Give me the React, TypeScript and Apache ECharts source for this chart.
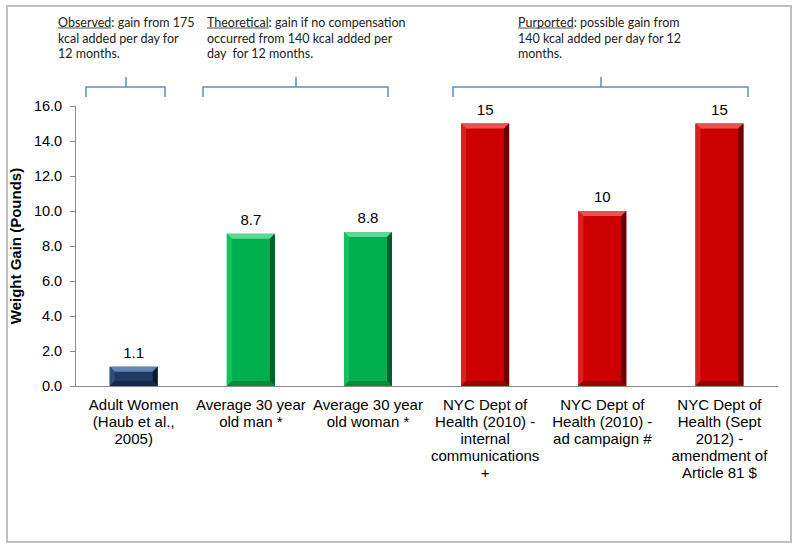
import React, { useEffect, useRef } from "react";
import * as echarts from "echarts";

const categories = [
  "Adult Women\n(Haub et al.,\n2005)",
  "Average 30 year\nold man *",
  "Average 30 year\nold woman *",
  "NYC Dept of\nHealth (2010) -\ninternal\ncommunications\n+",
  "NYC Dept of\nHealth (2010) -\nad campaign #",
  "NYC Dept of\nHealth (Sept\n2012) -\namendment of\nArticle 81 $",
];
const values = [1.1, 8.7, 8.8, 15, 10, 15];
const valueLabels = ["1.1", "8.7", "8.8", "15", "10", "15"];
const barGroups = ["observed", "theoretical", "theoretical", "purported", "purported", "purported"];
const yAxisTitle = "Weight Gain (Pounds)";

const annotationKeys = ["Observed", "Theoretical", "Purported"];
const annotationRests = [
  ": gain from 175\nkcal added per day for\n12 months.",
  ": gain if no compensation\noccurred from 140 kcal added per\nday  for 12 months.",
  ": possible gain from\n140 kcal added per day for 12\nmonths.",
];

// base, top, left, right, bottom
const palette: Record<string, string[]> = {
  observed: ["#1f3b62", "#6384b0", "#2d4d7a", "#0d1b30", "#142a48"],
  theoretical: ["#00b050", "#5cd895", "#14c262", "#005c28", "#008a3c"],
  purported: ["#cc0000", "#ec5050", "#da2020", "#6a0000", "#990000"],
};

const FONT = "Arial";

export default function App() {
  const ref = useRef<HTMLDivElement>(null);
  useEffect(() => {
    if (!ref.current) return;
    const chart = echarts.init(ref.current, null, { renderer: "svg" });

    const annFontSize = 12.5;
    const cvs = document.createElement("canvas");
    const ctx = cvs.getContext("2d")!;
    ctx.font = `${annFontSize}px Lato`;

    const annX = [58, 207, 518];
    const annY = 15;
    const lh = 15.5;

    const graphics: any[] = [
      {
        type: "rect",
        shape: { x: 7, y: 6, width: 784, height: 536 },
        style: { fill: "none", stroke: "#BFBFBF", lineWidth: 2 },
        z: -1,
      },
    ];
    annotationKeys.forEach((k, i) => {
      const w = ctx.measureText(k).width;
      graphics.push({
        type: "text",
        x: annX[i],
        y: annY,
        style: {
          text: k + annotationRests[i],
          fontFamily: "Lato",
          fontSize: annFontSize,
          lineHeight: lh,
          fill: "#222",
          verticalAlign: "top",
        },
      });
      graphics.push({
        type: "line",
        shape: { x1: annX[i], y1: annY + 13, x2: annX[i] + w, y2: annY + 13 },
        style: { stroke: "#222", lineWidth: 0.8 },
      });
    });
    const brackets = [
      [86, 165, 126],
      [203, 388, 296],
      [453, 748, 601],
    ];
    brackets.forEach(([a, b, c]) => {
      graphics.push({
        type: "polyline",
        shape: { points: [[a, 97], [a, 87], [b, 87], [b, 97]] },
        style: { stroke: "#5B8DC9", lineWidth: 1.5, fill: "none" },
      });
      graphics.push({
        type: "line",
        shape: { x1: c, y1: 77, x2: c, y2: 87 },
        style: { stroke: "#5B8DC9", lineWidth: 1.5 },
      });
    });

    const BW = 48;
    const renderBevel = (params: any, api: any) => {
      const i = params.dataIndex;
      const top = api.coord([i, api.value(1)]);
      const base = api.coord([i, 0]);
      const x0 = top[0] - BW / 2;
      const x1 = top[0] + BW / 2;
      const y0 = top[1];
      const y1 = base[1];
      const h = y1 - y0;
      const b = Math.min(5, h / 3);
      const c = palette[barGroups[i]];
      return {
        type: "group",
        children: [
          { type: "rect", shape: { x: x0, y: y0, width: BW, height: h }, style: { fill: c[0] } },
          {
            type: "polygon",
            shape: { points: [[x0, y0], [x1, y0], [x1 - b, y0 + b], [x0 + b, y0 + b]] },
            style: { fill: c[1] },
          },
          {
            type: "polygon",
            shape: { points: [[x0, y0], [x0 + b, y0 + b], [x0 + b, y1 - b], [x0, y1]] },
            style: { fill: c[2] },
          },
          {
            type: "polygon",
            shape: { points: [[x1, y0], [x1, y1], [x1 - b, y1 - b], [x1 - b, y0 + b]] },
            style: { fill: c[3] },
          },
          {
            type: "polygon",
            shape: { points: [[x0, y1], [x0 + b, y1 - b], [x1 - b, y1 - b], [x1, y1]] },
            style: { fill: c[4] },
          },
          {
            type: "text",
            x: top[0],
            y: y0 - 7,
            style: {
              text: valueLabels[i],
              fontFamily: FONT,
              fontSize: 15,
              fill: "#000",
              align: "center",
              verticalAlign: "bottom",
            },
          },
        ],
      };
    };

    chart.setOption({
      animation: false,
      grid: { left: 69, right: 22, top: 106, bottom: 163 },
      xAxis: {
        type: "category",
        data: categories,
        axisLine: { lineStyle: { color: "#8c8c8c" } },
        axisTick: { show: false },
        axisLabel: {
          interval: 0,
          color: "#000",
          fontFamily: FONT,
          fontSize: 15,
          lineHeight: 17,
          margin: 10,
        },
      },
      yAxis: {
        type: "value",
        min: 0,
        max: 16,
        interval: 2,
        name: yAxisTitle,
        nameLocation: "middle",
        nameGap: 51,
        nameTextStyle: {
          fontFamily: FONT,
          fontSize: 15,
          fontWeight: "bold",
          color: "#000",
        },
        splitLine: { show: false },
        axisLine: { show: true, lineStyle: { color: "#8c8c8c" } },
        axisTick: { show: true, length: 5, lineStyle: { color: "#8c8c8c" } },
        axisLabel: {
          formatter: (v: number) => v.toFixed(1),
          color: "#000",
          fontFamily: FONT,
          fontSize: 14.5,
          margin: 13,
        },
      },
      graphic: graphics,
      series: [
        {
          type: "custom",
          renderItem: renderBevel,
          encode: { x: 0, y: 1 },
          data: values.map((v, i) => [i, v]),
        },
      ],
    });
    return () => chart.dispose();
  }, []);
  return (
    <div
      ref={ref}
      style={{ position: "fixed", left: 0, top: 0, width: 800, height: 549, background: "#fff" }}
    />
  );
}
